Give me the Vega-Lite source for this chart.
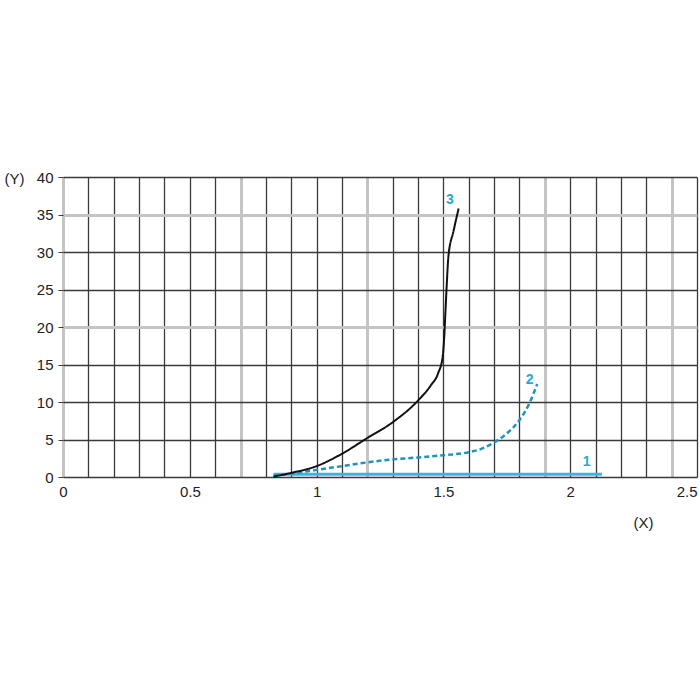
{
  "$schema": "https://vega.github.io/schema/vega-lite/v6.json",
  "width": 634,
  "height": 300,
  "autosize": {"type": "none"},
  "padding": {"left": 63, "top": 177, "right": 3, "bottom": 223},
  "background": "white",
  "config": {
    "view": {"stroke": null},
    "font": "Liberation Sans",
    "axis": {"labelFont": "Liberation Sans", "titleFont": "Liberation Sans", "labelFontSize": 15, "titleFontSize": 15, "labelColor": "#222", "titleColor": "#222", "titleFontWeight": "normal"}
  },
  "datasets": {
    "curves": [
      {"series": "1", "x": 0.83, "y": 0.38, "o": 1},
      {"series": "1", "x": 2.125, "y": 0.38, "o": 2},
      {"series": "2", "x": 0.83, "y": 0.15, "o": 1},
      {"series": "2", "x": 0.9, "y": 0.45, "o": 2},
      {"series": "2", "x": 1.0, "y": 0.95, "o": 3},
      {"series": "2", "x": 1.1, "y": 1.45, "o": 4},
      {"series": "2", "x": 1.2, "y": 1.95, "o": 5},
      {"series": "2", "x": 1.3, "y": 2.35, "o": 6},
      {"series": "2", "x": 1.4, "y": 2.6, "o": 7},
      {"series": "2", "x": 1.5, "y": 2.9, "o": 8},
      {"series": "2", "x": 1.6, "y": 3.3, "o": 9},
      {"series": "2", "x": 1.65, "y": 3.75, "o": 10},
      {"series": "2", "x": 1.7, "y": 4.6, "o": 11},
      {"series": "2", "x": 1.75, "y": 5.8, "o": 12},
      {"series": "2", "x": 1.8, "y": 7.6, "o": 13},
      {"series": "2", "x": 1.84, "y": 9.9, "o": 14},
      {"series": "2", "x": 1.87, "y": 12.4, "o": 15},
      {"series": "3", "x": 0.83, "y": 0.05, "o": 1},
      {"series": "3", "x": 0.9, "y": 0.55, "o": 2},
      {"series": "3", "x": 1.0, "y": 1.45, "o": 3},
      {"series": "3", "x": 1.1, "y": 3.1, "o": 4},
      {"series": "3", "x": 1.2, "y": 5.2, "o": 5},
      {"series": "3", "x": 1.3, "y": 7.3, "o": 6},
      {"series": "3", "x": 1.4, "y": 10.2, "o": 7},
      {"series": "3", "x": 1.45, "y": 12.2, "o": 8},
      {"series": "3", "x": 1.48, "y": 13.9, "o": 9},
      {"series": "3", "x": 1.497, "y": 16, "o": 10},
      {"series": "3", "x": 1.503, "y": 18.5, "o": 11},
      {"series": "3", "x": 1.508, "y": 22, "o": 12},
      {"series": "3", "x": 1.513, "y": 25.5, "o": 13},
      {"series": "3", "x": 1.52, "y": 29.5, "o": 14},
      {"series": "3", "x": 1.54, "y": 32.8, "o": 15},
      {"series": "3", "x": 1.56, "y": 35.8, "o": 16}
    ],
    "labels": [
      {"label": "1", "x": 2.065, "y": 2.0},
      {"label": "2", "x": 1.84, "y": 13.0},
      {"label": "3", "x": 1.526, "y": 37.0}
    ]
  },
  "encoding": {
    "x": {
      "field": "x", "type": "quantitative",
      "scale": {"domain": [0, 2.5], "nice": false, "zero": false},
      "axis": {
        "values": [0, 0.1, 0.2, 0.3, 0.4, 0.5, 0.6, 0.7, 0.8, 0.9, 1.0, 1.1, 1.2, 1.3, 1.4, 1.5, 1.6, 1.7, 1.8, 1.9, 2.0, 2.1, 2.2, 2.3, 2.4, 2.5],
        "labelExpr": "abs(datum.value*2-round(datum.value*2))<0.001 ? format(datum.value,'~g') : ''",
        "labelOverlap": false,
        "labelPadding": 7,
        "labelFlush": false,
        "labelAlign": {"condition": {"test": "datum.value>2.45", "value": "right"}, "value": "center"},
        "ticks": false,
        "domain": false,
        "grid": true,
        "gridColor": {"condition": {"test": "abs(datum.value-0)<0.01 || abs(datum.value-0.7)<0.01 || abs(datum.value-1.2)<0.01 || abs(datum.value-1.9)<0.01 || abs(datum.value-2.4)<0.01", "value": "#c4c4c4"}, "value": "#3a3a3a"},
        "gridWidth": {"condition": {"test": "abs(datum.value-0)<0.01 || abs(datum.value-0.7)<0.01 || abs(datum.value-1.2)<0.01 || abs(datum.value-1.9)<0.01 || abs(datum.value-2.4)<0.01", "value": 3}, "value": 1.3},
        "gridOpacity": 1,
        "title": "(X)",
        "titleX": 580,
        "titleY": 45,
        "titleBaseline": "middle",
        "titleAlign": "center"
      }
    },
    "y": {
      "field": "y", "type": "quantitative",
      "scale": {"domain": [0, 40], "nice": false},
      "axis": {
        "values": [0, 5, 10, 15, 20, 25, 30, 35, 40],
        "labelOverlap": false,
        "tickSize": 5,
        "tickColor": "#3a3a3a",
        "labelPadding": 5,
        "domain": false,
        "grid": true,
        "gridColor": {"condition": {"test": "datum.value==35 || datum.value==20", "value": "#c4c4c4"}, "value": "#3a3a3a"},
        "gridWidth": {"condition": {"test": "datum.value==35 || datum.value==20", "value": 3}, "value": 1.3},
        "gridOpacity": 1,
        "title": "(Y)",
        "titleAngle": 0,
        "titleX": -49,
        "titleY": 1,
        "titleBaseline": "middle",
        "titleAlign": "center"
      }
    }
  },
  "layer": [
    {
      "data": {"name": "curves"},
      "mark": {"type": "line", "interpolate": "monotone"},
      "encoding": {
        "detail": {"field": "series"},
        "order": {"field": "o"},
        "color": {"field": "series", "type": "nominal", "scale": {"domain": ["1", "2", "3"], "range": ["#3db4da", "#1f93bb", "#111111"]}, "legend": null},
        "strokeDash": {"field": "series", "type": "nominal", "scale": {"domain": ["1", "2", "3"], "range": [[1, 0], [5, 3], [1, 0]]}, "legend": null},
        "strokeWidth": {"field": "series", "type": "nominal", "scale": {"domain": ["1", "2", "3"], "range": [3, 2, 2]}, "legend": null}
      }
    },
    {
      "data": {"name": "labels"},
      "mark": {"type": "text", "font": "Liberation Sans", "fontSize": 14, "fontWeight": "bold", "color": "#27a8d3", "align": "center", "baseline": "middle"},
      "encoding": {
        "text": {"field": "label"}
      }
    }
  ]
}
